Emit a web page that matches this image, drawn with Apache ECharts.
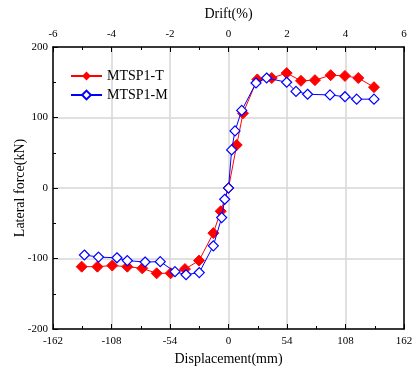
<!DOCTYPE html>
<html><head><meta charset="utf-8">
<script src="https://cdn.jsdelivr.net/npm/echarts@6/dist/echarts.min.js"></script>
<style>html,body{margin:0;padding:0;background:#fff}#c{width:417px;height:366px}</style>
</head><body><div id="c"></div>
<script>
var seriesNames = ['MTSP1-T', 'MTSP1-M'];
var tDisp = [-135.5,-121,-107.3,-93.4,-79.6,-66.3,-53.4,-40.2,-27.2,-14,-7.2,0,7.6,13.4,26.6,39.9,53.7,66.9,79.8,94.3,107.5,119.8,134.3];
var tForce = [-111.6,-111.6,-110,-111.6,-114,-121,-121,-115,-103,-64,-33,0,61,106,154,156,163,152,153,160,159,156,143];
var mDisp = [-133,-120,-103,-93.4,-77,-63,-49.4,-39.2,-27,-14,-6.3,-3.5,0,2.9,6,12.2,25.4,35.2,53.7,62.3,73,93.7,107.5,118.3,134.3];
var mForce = [-95,-98,-99,-103,-105,-104.5,-118.7,-123,-120,-82,-42,-16,0,54,81,110,149,156,150,137,133,132,129.5,126,126];

function pairs(xs, ys){ return xs.map(function(x,i){ return [x, ys[i]]; }); }

var font = 'Liberation Serif';
var chart = echarts.init(document.getElementById('c'));
chart.setOption({
  animation: false,
  textStyle: {fontFamily: font},
  grid: {left: 53, right: 13, top: 47, bottom: 37, containLabel: false, outerBoundsMode: 'none'},
  legend: {
    left: 70, top: 69, padding: 0, orient: 'vertical', itemGap: 5, itemWidth: 31, itemHeight: 11,
    textStyle: {fontFamily: font, fontSize: 14, color: '#000'},
    data: seriesNames
  },
  xAxis: [{
    type: 'value', position: 'bottom', min: -162, max: 162, interval: 54,
    name: 'Displacement(mm)', nameLocation: 'middle', nameGap: 22,
    nameTextStyle: {fontFamily: font, fontSize: 14, color: '#000'},
    axisLine: {show: true, onZero: false, lineStyle: {color: '#000', width: 1.5}},
    axisTick: {show: true, inside: true, length: 5, lineStyle: {color: '#000'}},
    minorTick: {show: true, splitNumber: 2, length: 3, lineStyle: {color: '#000'}},
    axisLabel: {fontFamily: font, fontSize: 11, color: '#000', margin: 7},
    splitLine: {show: true, lineStyle: {color: '#d6d6d6', width: 1.5}},
    minorSplitLine: {show: false}
  }, {
    type: 'value', position: 'top', min: -6, max: 6, interval: 2,
    name: 'Drift(%)', nameLocation: 'middle', nameGap: 26,
    nameTextStyle: {fontFamily: font, fontSize: 14, color: '#000'},
    axisLine: {show: true, onZero: false, lineStyle: {color: '#000', width: 1.5}},
    axisTick: {show: true, inside: true, length: 5, lineStyle: {color: '#000'}},
    minorTick: {show: true, splitNumber: 2, length: 3, lineStyle: {color: '#000'}},
    axisLabel: {fontFamily: font, fontSize: 11, color: '#000', margin: 7},
    splitLine: {show: false}
  }],
  yAxis: [{
    type: 'value', position: 'left', min: -200, max: 200, interval: 100,
    name: 'Lateral force(kN)', nameLocation: 'middle', nameGap: 26, nameMoveOverlap: false,
    nameTextStyle: {fontFamily: font, fontSize: 14, color: '#000'},
    axisLine: {show: true, onZero: false, lineStyle: {color: '#000', width: 1.5}},
    axisTick: {show: true, inside: true, length: 5, lineStyle: {color: '#000'}},
    minorTick: {show: true, splitNumber: 2, length: 3, lineStyle: {color: '#000'}},
    axisLabel: {fontFamily: font, fontSize: 11, color: '#000', margin: 5},
    splitLine: {show: true, lineStyle: {color: '#d6d6d6', width: 1.5}}
  }, {
    type: 'value', position: 'right', min: -200, max: 200, interval: 100,
    axisLine: {show: true, onZero: false, lineStyle: {color: '#000', width: 1.5}},
    axisTick: {show: false}, axisLabel: {show: false}, splitLine: {show: false}
  }],
  series: [{
    name: seriesNames[0], type: 'line', xAxisIndex: 0, yAxisIndex: 0,
    data: pairs(tDisp, tForce),
    symbol: 'diamond', symbolSize: 11,
    lineStyle: {color: '#ff0000', width: 1},
    itemStyle: {color: '#ff0000', borderColor: '#ff0000'},
    z: 2
  }, {
    name: seriesNames[1], type: 'line', xAxisIndex: 0, yAxisIndex: 0,
    data: pairs(mDisp, mForce),
    symbol: 'diamond', symbolSize: 10, showAllSymbol: true,
    lineStyle: {color: '#0000ff', width: 1},
    itemStyle: {color: '#ffffff', borderColor: '#0000ff', borderWidth: 1.2},
    z: 3
  }]
});
</script>
</body></html>
